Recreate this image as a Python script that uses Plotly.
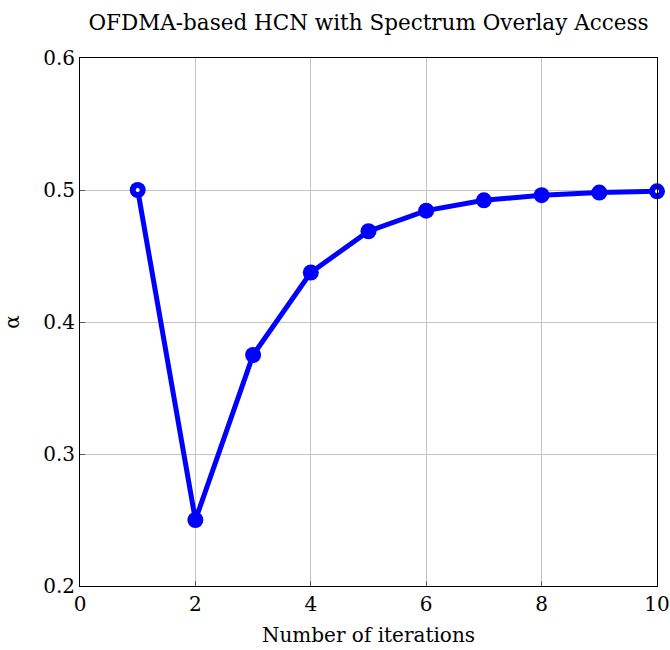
import plotly.graph_objects as go

iterations = [1, 2, 3, 4, 5, 6, 7, 8, 9, 10]
alpha = [0.5, 0.25, 0.375, 0.4375, 0.46875, 0.484375, 0.4921875, 0.49609375, 0.498046875, 0.4990234375]
x_ticks = [0, 2, 4, 6, 8, 10]
y_ticks = [0.2, 0.3, 0.4, 0.5, 0.6]
y_tick_labels = ["0.2", "0.3", "0.4", "0.5", "0.6"]

FONT = "DejaVu Serif"

fig = go.Figure()
fig.add_trace(go.Scatter(
    x=iterations, y=alpha, mode="lines+markers",
    line=dict(color="#0000ff", width=5),
    marker=dict(color="#0000ff", size=16, line=dict(width=0)),
    showlegend=False, cliponaxis=False,
))
# small highlight holes at the endpoints, as in the reference rendering
ends_x = [iterations[0], iterations[-1]]
ends_y = [alpha[0], alpha[-1]]
fig.add_trace(go.Scatter(
    x=ends_x, y=ends_y, mode="markers",
    marker=dict(color="white", size=4, line=dict(width=0)),
    showlegend=False, cliponaxis=False, hoverinfo="skip",
))

axis_common = dict(
    showgrid=True, gridcolor="#c4c4c4", gridwidth=1,
    showline=True, linecolor="black", linewidth=1, mirror=True,
    ticks="inside", ticklen=5, tickcolor="#555555", tickwidth=1,
    zeroline=False, automargin=False, ticklabeloverflow="allow",
    tickfont=dict(family=FONT, size=20, color="black"),
    title_font=dict(family=FONT, size=20, color="black"),
)

W, H = 670, 650
fig.update_layout(
    width=W, height=H,
    margin=dict(l=80, r=13, t=58, b=64),
    paper_bgcolor="white", plot_bgcolor="white",
    title=dict(text="OFDMA-based HCN with Spectrum Overlay Access",
               xref="paper", x=0.5, xanchor="center",
               yref="container", y=1 - 22 / H, yanchor="middle",
               font=dict(family=FONT, size=21.5, color="black")),
    xaxis=dict(range=[0, 10], tickvals=x_ticks,
               title=dict(text="Number of iterations", standoff=12), **axis_common),
    yaxis=dict(range=[0.2, 0.6], tickvals=y_ticks, ticktext=y_tick_labels,
               title=dict(text="α", standoff=22), **axis_common),
)

fig.write_html(
    "out.html",
    config={"displayModeBar": False},
    post_script="document.body.style.margin='0';document.body.style.overflow='hidden';",
)
